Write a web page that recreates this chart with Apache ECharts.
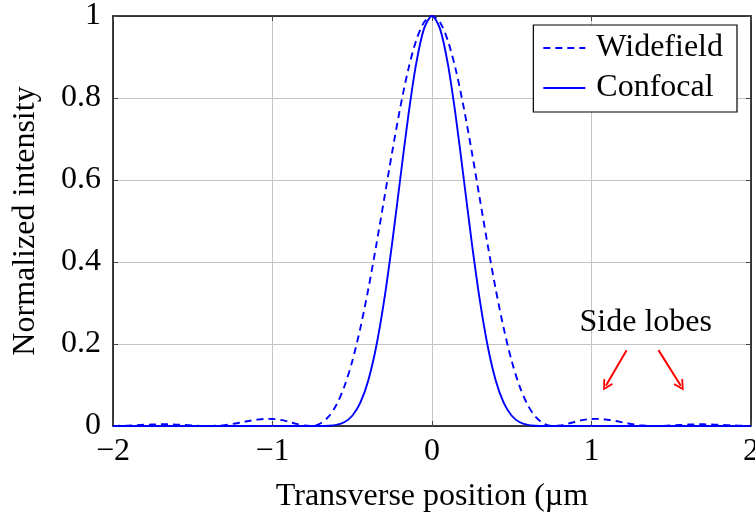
<!DOCTYPE html>
<html>
<head>
<meta charset="utf-8">
<script src="https://cdn.jsdelivr.net/npm/echarts@6/dist/echarts.min.js"></script>
<style>html,body{margin:0;padding:0;background:#fff}#c{width:755px;height:518px}</style>
</head>
<body>
<div id="c"></div>
<script>
const xValues = [-2.00,-1.95,-1.90,-1.85,-1.80,-1.75,-1.70,-1.65,-1.60,-1.55,-1.50,-1.45,-1.40,-1.35,-1.30,-1.25,-1.20,-1.15,-1.10,-1.05,-1.00,-0.95,-0.90,-0.85,-0.80,-0.75,-0.70,-0.65,-0.60,-0.55,-0.50,-0.45,-0.40,-0.35,-0.30,-0.25,-0.20,-0.15,-0.10,-0.05,0.00,0.05,0.10,0.15,0.20,0.25,0.30,0.35,0.40,0.45,0.50,0.55,0.60,0.65,0.70,0.75,0.80,0.85,0.90,0.95,1.00,1.05,1.10,1.15,1.20,1.25,1.30,1.35,1.40,1.45,1.50,1.55,1.60,1.65,1.70,1.75,1.80,1.85,1.90,1.95,2.00];

const widefield = [0.0001,0.0005,0.0012,0.0021,0.0030,0.0037,0.0041,0.0041,0.0034,0.0024,0.0013,0.0004,0.0000,0.0006,0.0022,0.0050,0.0085,0.0122,0.0154,0.0173,0.0172,0.0148,0.0106,0.0053,0.0011,0.0003,0.0062,0.0220,0.0511,0.0960,0.1581,0.2376,0.3326,0.4397,0.5534,0.6675,0.7746,0.8674,0.9391,0.9845,
1.0000,
0.9845,0.9391,0.8674,0.7746,0.6675,0.5534,0.4397,0.3326,0.2376,0.1581,0.0960,0.0511,0.0220,0.0062,0.0003,0.0011,0.0053,0.0106,0.0148,0.0172,0.0173,0.0154,0.0122,0.0085,0.0050,0.0022,0.0006,0.0000,0.0004,0.0013,0.0024,0.0034,0.0041,0.0041,0.0037,0.0030,0.0021,0.0012,0.0005,0.0001];

const confocal = [0,0,0,0,0,0,0,0,0,0,0,0,0,0,0,0,0.0001,0.0001,0.0002,0.0003,0.0003,0.0002,0.0001,0.0000,0.0000,0.0000,0.0000,0.0005,0.0026,0.0092,0.0250,0.0565,0.1106,0.1933,0.3063,0.4456,0.6000,0.7524,0.8819,0.9692,
1.0000,
0.9692,0.8819,0.7524,0.6000,0.4456,0.3063,0.1933,0.1106,0.0565,0.0250,0.0092,0.0026,0.0005,0.0000,0.0000,0.0000,0.0000,0.0001,0.0002,0.0003,0.0003,0.0002,0.0001,0.0001,0,0,0,0,0,0,0,0,0,0,0,0,0,0,0,0,0];

const seriesNames = ['Widefield', 'Confocal'];
const xTicks = [-2, -1, 0, 1, 2];
const yTicks = [0, 0.2, 0.4, 0.6, 0.8, 1];
const annotationText = 'Side lobes';
const annotationPos = [1.34, 0.252];
const arrowStarts = [[1.22, 0.185], [1.42, 0.185]];
const arrowEnds = [[1.09, 0.098], [1.56, 0.098]];

const FONT = 'Liberation Serif';
const FS = 32;
const chart = echarts.init(document.getElementById('c'), null, {renderer: 'canvas'});

const axisCommon = {
  type: 'value',
  axisLine: {show: true, onZero: false, lineStyle: {color: '#000', width: 1.5}},
  axisTick: {show: true, inside: true, length: 5, lineStyle: {color: '#444', width: 1}},
  splitLine: {show: false}
};

chart.setOption({
  animation: false,
  backgroundColor: '#fff',
  textStyle: {fontFamily: FONT},
  grid: {left: 113, right: 4, top: 16, bottom: 92, containLabel: false, outerBoundsMode: 'none'},
  legend: {
    data: seriesNames,
    orient: 'vertical',
    right: 18, top: 25,
    itemWidth: 42, itemHeight: 14, itemGap: 8,
    padding: [7, 14, 8, 9],
    borderColor: '#000', borderWidth: 1.2, borderRadius: 0,
    backgroundColor: '#fff',
    itemStyle: {opacity: 0},
    textStyle: {fontFamily: FONT, fontSize: FS, color: '#000', padding: [0, 0, 0, 6]}
  },
  xAxis: [
    Object.assign({}, axisCommon, {
      min: xTicks[0], max: xTicks[xTicks.length - 1], interval: 1,
      position: 'bottom',
      name: 'Transverse position (µm', nameLocation: 'middle', nameGap: 55,
      nameTextStyle: {fontFamily: FONT, fontSize: FS, color: '#000'},
      axisLabel: {margin: 10, fontFamily: FONT, fontSize: FS, color: '#000',
        formatter: v => String(v).replace('-', '\u2212')},
      splitLine: {show: true, lineStyle: {color: '#c4c4c4', width: 1}}
    }),
    Object.assign({}, axisCommon, {
      min: xTicks[0], max: xTicks[xTicks.length - 1], interval: 1,
      position: 'top', axisLabel: {show: false}
    })
  ],
  yAxis: [
    Object.assign({}, axisCommon, {
      min: yTicks[0], max: yTicks[yTicks.length - 1], interval: 0.2,
      position: 'left',
      name: 'Normalized intensity', nameLocation: 'middle', nameGap: 71,
      nameTextStyle: {fontFamily: FONT, fontSize: FS, color: '#000'},
      axisLabel: {margin: 12, fontFamily: FONT, fontSize: FS, color: '#000'},
      splitLine: {show: true, lineStyle: {color: '#c4c4c4', width: 1}}
    }),
    Object.assign({}, axisCommon, {
      min: yTicks[0], max: yTicks[yTicks.length - 1], interval: 0.2,
      position: 'right', axisLabel: {show: false}
    })
  ],
  series: [
    {
      name: seriesNames[0], type: 'line', xAxisIndex: 0, yAxisIndex: 0,
      data: xValues.map((x, i) => [x, widefield[i]]),
      showSymbol: false, symbol: 'none', smooth: 0.3, clip: false,
      lineStyle: {color: '#0000ff', width: 1.9, type: [7, 5]},
      itemStyle: {color: '#0000ff'}
    },
    {
      name: seriesNames[1], type: 'line', xAxisIndex: 0, yAxisIndex: 0,
      data: xValues.map((x, i) => [x, confocal[i]]),
      showSymbol: false, symbol: 'none', smooth: 0.3, clip: false,
      lineStyle: {color: '#0000ff', width: 1.9, type: 'solid'},
      itemStyle: {color: '#0000ff'},
      markLine: {
        silent: true, animation: false,
        symbol: ['none', 'path://M5,0 L10,9 L8.6,9.9 L5,3.2 L1.4,9.9 L0,9 Z'], symbolSize: [11, 11],
        itemStyle: {color: '#ff0000'},
        lineStyle: {color: '#ff0000', width: 2, type: 'solid'},
        label: {show: false},
        data: arrowStarts.map((s, i) => [{coord: s}, {coord: arrowEnds[i]}])
      },
      markPoint: {
        silent: true, symbol: 'circle', symbolSize: 0,
        label: {show: true, position: 'inside', formatter: annotationText,
          fontFamily: FONT, fontSize: FS, color: '#000'},
        data: [{coord: annotationPos}]
      }
    }
  ]
});
</script>
</body>
</html>
